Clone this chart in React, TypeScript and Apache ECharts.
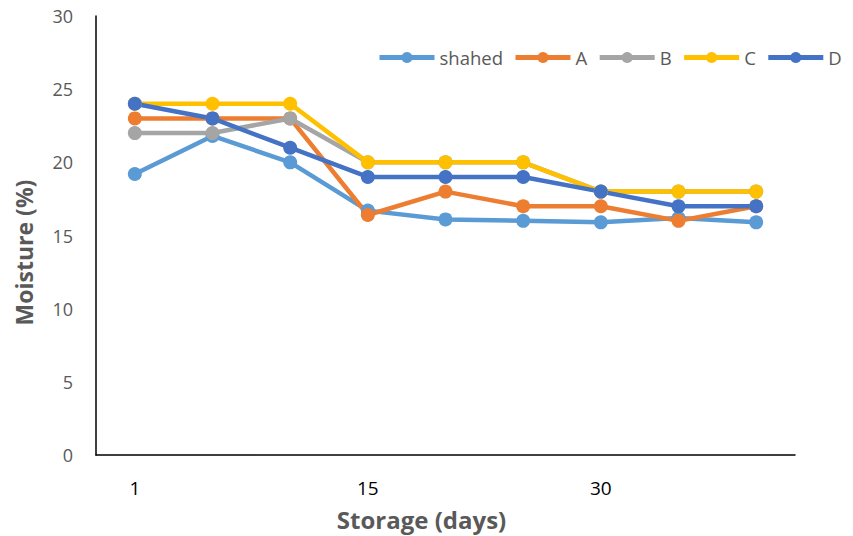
import React, { useEffect, useRef } from "react";
import * as echarts from "echarts";

const categories = ["1", "", "", "15", "", "", "30", "", ""];
const shahed = [19.2, 21.8, 20.0, 16.7, 16.1, 16.0, 15.9, 16.2, 15.9];
const seriesA = [23, 23, 23, 16.4, 18, 17, 17, 16, 17];
const seriesB = [22, 22, 23, 20, 20, 20, 18, 18, 18];
const seriesC = [24, 24, 24, 20, 20, 20, 18, 18, 18];
const seriesD = [24, 23, 21, 19, 19, 19, 18, 17, 17];
const yTicks = { min: 0, max: 30, interval: 5 };

const names = ["shahed", "A", "B", "C", "D"];
const colors = ["#5B9BD5", "#ED7D31", "#A5A5A5", "#FFC000", "#4472C4"];
const datasets = [shahed, seriesA, seriesB, seriesC, seriesD];

export default function App() {
  const ref = useRef<HTMLDivElement>(null);
  useEffect(() => {
    const chart = echarts.init(ref.current!, null, { renderer: "svg" });
    const font = "Open Sans";
    chart.setOption({
      animation: false,
      textStyle: { fontFamily: font },
      grid: { left: 96, right: 58, top: 16, bottom: 79 },
      legend: {
        data: names,
        left: 377,
        top: 48,
        padding: 0,
        itemWidth: 55,
        itemHeight: 14,
        itemGap: 10,
        lineStyle: { width: 5 },
        textStyle: { fontSize: 18.5, color: "#595959", fontFamily: font },
      },
      xAxis: {
        type: "category",
        data: categories,
        boundaryGap: true,
        axisLine: { lineStyle: { color: "#000", width: 1.5 } },
        axisTick: { show: false },
        axisLabel: { interval: 0, fontSize: 19, color: "#000", margin: 23, fontFamily: font },
        name: "Storage (days)",
        nameLocation: "middle",
        nameGap: 52,
        nameTextStyle: {
          fontSize: 24,
          fontWeight: "bold",
          color: "#595959",
          fontFamily: font,
          padding: [0, 48, 0, 0],
        },
      },
      yAxis: {
        type: "value",
        min: yTicks.min,
        max: yTicks.max,
        interval: yTicks.interval,
        splitLine: { show: false },
        axisLine: { show: true, lineStyle: { color: "#000", width: 1.5 } },
        axisTick: { show: false },
        axisLabel: { fontSize: 18, color: "#595959", margin: 23, fontFamily: font },
        name: "Moisture (%)",
        nameLocation: "middle",
        nameGap: 61,
        nameTextStyle: {
          fontSize: 23,
          fontWeight: "bold",
          color: "#595959",
          fontFamily: font,
          padding: [0, 34, 0, 0],
        },
      },
      series: datasets.map((d, i) => ({
        name: names[i],
        type: "line",
        data: d,
        symbol: "circle",
        symbolSize: 14,
        lineStyle: { width: 4.5, color: colors[i] },
        itemStyle: { color: colors[i] },
      })),
    });
    return () => chart.dispose();
  }, []);
  return (
    <div
      ref={ref}
      style={{ position: "absolute", left: 0, top: 0, width: 853, height: 536 }}
    />
  );
}
